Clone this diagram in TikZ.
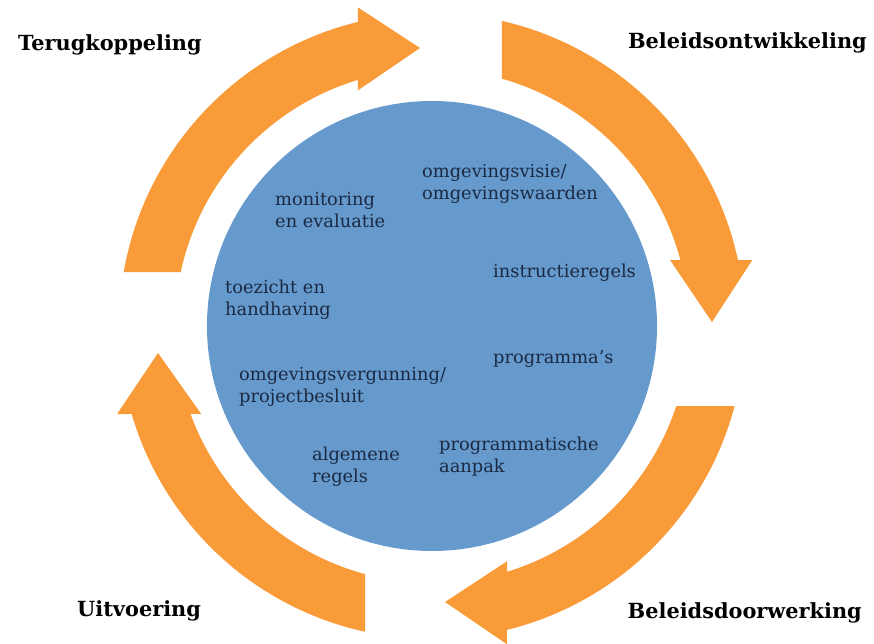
\documentclass[tikz,border=0pt]{standalone}
\usepackage{fontspec}
\setmainfont{DejaVu Serif}
\usepackage{tikz}
\usepackage{xcolor}
\definecolor{cycleorange}{HTML}{F99B38}
\definecolor{hubblue}{HTML}{6699CC}
\definecolor{inktext}{HTML}{1B2A44}

\begin{document}
\begin{tikzpicture}[x=0.03cm,y=0.03cm,
    band/.style={fill=cycleorange},
    phase/.style={font=\fontsize{17.8}{20}\selectfont\bfseries,text=black,inner sep=0pt},
    item/.style={font=\fontsize{15.2}{18.7}\selectfont,text=inktext,align=left,anchor=west,inner sep=0pt}]
    \useasboundingbox (-432,-317) rectangle (442,326);
    %% centre disc
    \node[circle,fill=hubblue,minimum size=13.5cm,inner sep=0pt] (hub) at (0,0) {};
    %% the four arrows of the cycle
    \fill[band] (170.07:313) arc[start angle=170.07,end angle=103.68,radius=313]
      -- (-74,318.5) -- (-12,278) -- (-74,235.7)
      -- (106.74:257) arc[start angle=106.74,end angle=167.87,radius=257] -- cycle;
    \fill[band] (77.08:313) arc[start angle=77.08,end angle=12.17,radius=313]
      -- (320.3,66) -- (280,4) -- (238,66)
      -- (14.88:257) arc[start angle=14.88,end angle=74.20,radius=257] -- cycle;
    \fill[band] (-14.81:313) arc[start angle=-14.81,end angle=-76.14,radius=313]
      -- (75,-318.3) -- (13,-276) -- (75,-235.3)
      -- (-73.03:257) arc[start angle=-73.03,end angle=-18.14,radius=257] -- cycle;
    \fill[band] (-102.36:313) arc[start angle=-102.36,end angle=-163.67,radius=313]
      -- (-314.9,-88) -- (-274,-27) -- (-230.8,-88)
      -- (-159.98:257) arc[start angle=-159.98,end angle=-105.11,radius=257] -- cycle;
    %% phases
    \node[phase,anchor=west] (terug) at (-414,281) {Terugkoppeling};
    \node[phase,anchor=east] (ontwikkel) at (435,283) {Beleidsontwikkeling};
    \node[phase,anchor=west] (uitvoer) at (-355,-285) {Uitvoering};
    \node[phase,anchor=east] (doorwerk) at (430,-287) {Beleidsdoorwerking};
    %% instruments
    \node[item] (visie) at (-10,142) {omgevingsvisie/\\omgevingswaarden};
    \node[item] (monitor) at (-157,116) {monitoring\\en evaluatie};
    \node[item] (instructie) at (61,53) {instructieregels};
    \node[item] (toezicht) at (-207,26) {toezicht en\\handhaving};
    \node[item] (programmas) at (61,-33) {programma's};
    \node[item] (vergunning) at (-193,-61) {omgevingsvergunning/\\projectbesluit};
    \node[item] (algemeen) at (-120,-141) {algemene\\regels};
    \node[item] (aanpak) at (7,-131) {programmatische\\aanpak};
\end{tikzpicture}
\end{document}
